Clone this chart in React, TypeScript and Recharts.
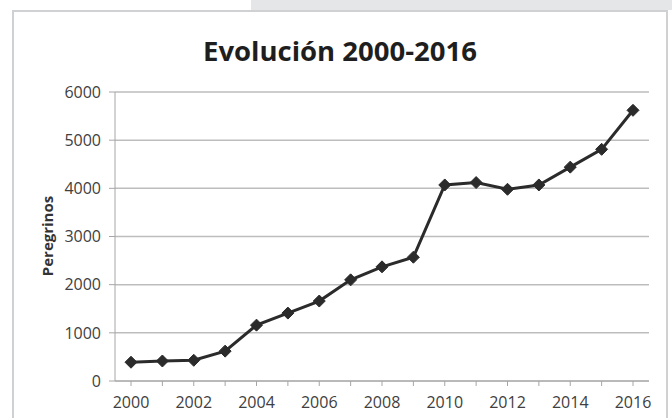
import React from 'react';
import { LineChart, Line, XAxis, YAxis, CartesianGrid } from 'recharts';

const years = ['2000','2001','2002','2003','2004','2005','2006','2007','2008','2009','2010','2011','2012','2013','2014','2015','2016'];
const pilgrims = [390, 415, 430, 620, 1160, 1410, 1660, 2100, 2370, 2570, 4070, 4120, 3980, 4070, 4440, 4810, 5620];
const yTicks = [0, 1000, 2000, 3000, 4000, 5000, 6000];
const title = 'Evolución 2000-2016';
const yLabel = 'Peregrinos';

const data = years.map((y, i) => ({ year: y, value: pilgrims[i] }));

const Diamond = (props: any) => {
  const { cx, cy, index } = props;
  if (cx == null || cy == null) return <g key={`d${index}`} />;
  const r = 6;
  return (
    <polygon
      key={`d${index}`}
      points={`${cx},${cy - r} ${cx + r},${cy} ${cx},${cy + r} ${cx - r},${cy}`}
      fill="#2b2b2b"
      stroke="#2b2b2b"
      strokeWidth={1}
    />
  );
};

export default function App() {
  const font = '"Open Sans", sans-serif';
  return (
    <div style={{ position: 'absolute', left: 0, top: 0, width: 672, height: 418, background: '#fff', overflow: 'hidden', fontFamily: font }}>
      <div style={{ position: 'absolute', left: 251, top: 0, width: 421, height: 10, background: '#e5e6e7' }} />
      <div style={{ position: 'absolute', left: 12, top: 10, width: 656, height: 430, boxSizing: 'border-box', border: '2px solid #d0d1d3' }} />
      <div style={{ position: 'absolute', left: 12, width: 656, top: 33, textAlign: 'center', fontSize: 27.5, fontWeight: 700, color: '#1e1e1e', lineHeight: '36px' }}>{title}</div>
      <div style={{ position: 'absolute', left: 47, top: 236, transform: 'translate(-50%, -50%) rotate(-90deg)', fontSize: 15, fontWeight: 700, color: '#333', whiteSpace: 'nowrap' }}>{yLabel}</div>
      <div style={{ position: 'absolute', left: 0, top: 0 }}>
        <LineChart width={672} height={418} data={data} margin={{ top: 92, right: 23, bottom: 7, left: 0 }}>
          <CartesianGrid vertical={false} stroke="#bdbdbd" strokeWidth={1.5} />
          <XAxis
            dataKey="year"
            interval={0}
            padding={{ left: 16, right: 16 }}
            tickSize={5}
            tickMargin={11}
            height={30}
            stroke="#a6a6a6"
            tick={{ fill: '#404040', fontSize: 16, fontFamily: font }}
            tickFormatter={(v: string, i: number) => (i % 2 === 0 ? v : '')}
          />
          <YAxis
            domain={[0, 6000]}
            ticks={yTicks}
            interval={0}
            width={115}
            tickSize={6}
            tickMargin={8}
            stroke="#a6a6a6"
            tick={{ fill: '#404040', fontSize: 16, fontFamily: font }}
          />
          <Line
            type="linear"
            dataKey="value"
            stroke="#2b2b2b"
            strokeWidth={3}
            dot={Diamond}
            activeDot={false}
            isAnimationActive={false}
          />
        </LineChart>
      </div>
    </div>
  );
}
